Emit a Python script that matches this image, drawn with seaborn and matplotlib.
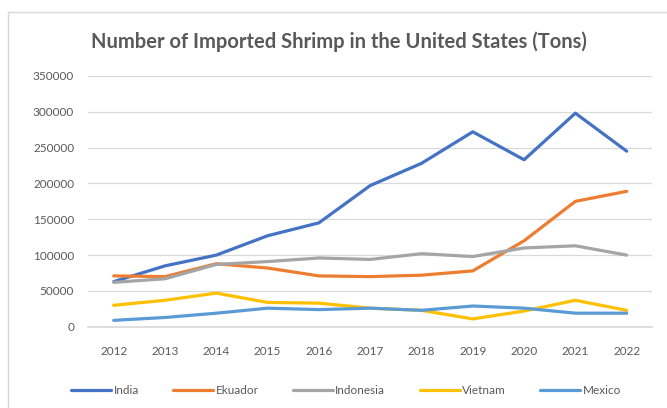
import pandas as pd
import numpy as np
import seaborn as sns
import matplotlib.pyplot as plt
from matplotlib.patches import Rectangle

# data
years = [2012, 2013, 2014, 2015, 2016, 2017, 2018, 2019, 2020, 2021, 2022]
india = [63000, 85000, 100000, 127000, 145000, 197000, 228000, 272000, 233000, 298000, 245000]
ekuador = [71000, 70000, 88000, 82000, 71000, 70000, 72000, 78000, 120000, 175000, 189000]
indonesia = [62000, 67000, 87000, 91000, 96000, 94000, 102000, 98000, 110000, 113000, 100000]
vietnam = [30000, 37000, 47000, 34000, 33000, 26000, 23000, 11000, 22000, 37000, 23000]
mexico = [9000, 13000, 19000, 26000, 24000, 26000, 23000, 29000, 26000, 19000, 19000]

countries = ['India', 'Ekuador', 'Indonesia', 'Vietnam', 'Mexico']
palette = ['#4472C4', '#ED7D31', '#A5A5A5', '#FFC000', '#5B9BD5']

series = [india, ekuador, indonesia, vietnam, mexico]
df = pd.DataFrame({
    'year': np.tile(years, len(countries)),
    'tons': np.concatenate(series),
    'country': np.repeat(countries, len(years)),
})

sns.set_theme(style='white')
plt.rcParams['font.family'] = ['Lato', 'DejaVu Sans']

fig = plt.figure(figsize=(6.67, 4.08), dpi=100)
ax = fig.add_axes([0.132, 0.199, 0.846, 0.615])

sns.lineplot(data=df, x='year', y='tons', hue='country', hue_order=countries,
             palette=palette, linewidth=2.3, ax=ax, legend=True)

ax.set_ylim(0, 350000)
ax.set_xlim(2011.5, 2022.5)
ax.set_yticks(range(0, 350001, 50000))
ax.set_xticks(years)
ax.yaxis.grid(True, color='#D9D9D9', linewidth=0.9)
ax.set_axisbelow(True)
for s in ['top', 'right', 'left']:
    ax.spines[s].set_visible(False)
ax.spines['bottom'].set_color('#D9D9D9')
ax.tick_params(axis='y', colors='#595959', labelsize=8.5, length=0, pad=10)
ax.tick_params(axis='x', colors='#595959', labelsize=8.5, length=0, pad=14)
ax.set_xlabel('')
ax.set_ylabel('')

ax.set_title('Number of Imported Shrimp in the United States (Tons)',
             color='#595959', fontsize=14.5, fontweight='bold', pad=20,
             x=0.445)

handles, labels = ax.get_legend_handles_labels()
ax.legend(handles, labels, loc='upper center', bbox_to_anchor=(0.457, -0.19),
          ncol=5, frameon=False, fontsize=8.5, labelcolor='#595959',
          handlelength=3.4, columnspacing=2.9, handletextpad=0.2)

# outer chart border
fig.add_artist(Rectangle((8 / 667, -0.01), 1.0, 1 - 12 / 408 + 0.01,
                         transform=fig.transFigure, fill=False,
                         edgecolor='#D9D9D9', linewidth=1))

fig.savefig('out.png', dpi=100, facecolor='white')
